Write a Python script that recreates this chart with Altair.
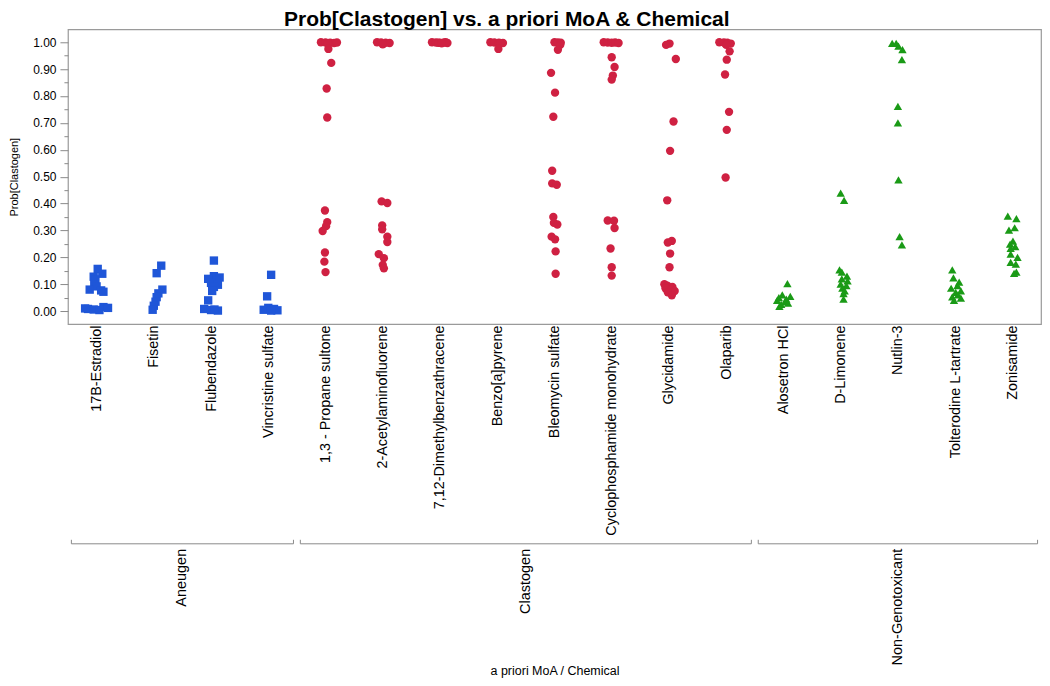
import json
import altair as alt
import pandas as pd

# ---------------- data ----------------
groups = ["Aneugen", "Clastogen", "Non-Genotoxicant"]
chemicals = [
    "17B-Estradiol", "Fisetin", "Flubendazole", "Vincristine sulfate",
    "1,3 - Propane sultone", "2-Acetylaminofluorene", "7,12-Dimethylbenzathracene",
    "Benzo[a]pyrene", "Bleomycin sulfate", "Cyclophosphamide monohydrate",
    "Glycidamide", "Olaparib",
    "Alosetron HCl", "D-Limonene", "Nutlin-3", "Tolterodine L-tartrate", "Zonisamide",
]
chem_group = ["Aneugen"] * 4 + ["Clastogen"] * 8 + ["Non-Genotoxicant"] * 5

# probability values per chemical
v_estradiol = [0.157, 0.139, 0.128, 0.118, 0.100, 0.092, 0.080, 0.077, 0.072, 0.015, 0.012, 0.008, 0.006, 0.004, 0.010]
v_fisetin = [0.169, 0.141, 0.080, 0.066, 0.052, 0.035, 0.020, 0.005]
v_flubendazole = [0.188, 0.130, 0.125, 0.120, 0.112, 0.105, 0.098, 0.090, 0.075, 0.040, 0.008, 0.004, 0.002, 0.006]
v_vincristine = [0.135, 0.055, 0.012, 0.008, 0.005, 0.003, 0.002]
v_propane = [1.0, 0.999, 0.998, 0.997, 0.999, 0.996, 0.975, 0.923, 0.828, 0.720, 0.374, 0.331, 0.316, 0.298, 0.218, 0.184, 0.145]
v_aaf = [1.0, 0.999, 0.998, 0.997, 0.992, 0.408, 0.402, 0.319, 0.304, 0.277, 0.257, 0.212, 0.197, 0.172, 0.159]
v_dmba = [1.0, 0.999, 0.998, 0.999, 0.997, 0.998, 1.0, 0.996]
v_bap = [1.0, 0.999, 0.998, 0.997, 0.996, 0.975]
v_bleomycin = [1.0, 0.999, 0.998, 0.990, 0.972, 0.886, 0.8125, 0.723, 0.522, 0.475, 0.470, 0.350, 0.328, 0.322, 0.277, 0.267, 0.222, 0.139]
v_cyclo = [1.0, 0.999, 0.998, 0.999, 0.997, 0.944, 0.908, 0.876, 0.861, 0.337, 0.336, 0.309, 0.233, 0.163, 0.132]
v_glycidamide = [0.995, 0.990, 0.9375, 0.705, 0.596, 0.412, 0.261, 0.255, 0.214, 0.163, 0.100, 0.095, 0.090, 0.085, 0.080, 0.075, 0.070, 0.059]
v_olaparib = [1.0, 0.999, 0.998, 0.995, 0.990, 0.966, 0.935, 0.880, 0.741, 0.674, 0.497]
v_alosetron = [0.102, 0.060, 0.055, 0.050, 0.045, 0.040, 0.035, 0.030, 0.025, 0.018]
v_limonene = [0.439, 0.412, 0.153, 0.145, 0.130, 0.120, 0.112, 0.100, 0.095, 0.085, 0.075, 0.065, 0.045]
v_nutlin = [0.996, 0.996, 0.985, 0.972, 0.935, 0.761, 0.700, 0.488, 0.277, 0.246]
v_tolterodine = [0.153, 0.124, 0.108, 0.095, 0.085, 0.075, 0.070, 0.060, 0.053, 0.048, 0.040]
v_zonisamide = [0.353, 0.344, 0.310, 0.301, 0.260, 0.249, 0.240, 0.233, 0.212, 0.200, 0.181, 0.175, 0.145, 0.140]

# horizontal jitter of each point, as a fraction of one category slot
j_estradiol = [0.02, 0.10, -0.05, -0.02, -0.04, 0.00, -0.12, 0.08, 0.12, 0.12, 0.20, -0.15, -0.05, 0.05, -0.20]
j_fisetin = [0.13, 0.05, 0.15, 0.08, 0.05, 0.03, 0.00, -0.02]
j_flubendazole = [0.05, 0.05, 0.15, -0.05, 0.10, 0.00, 0.12, 0.05, 0.02, -0.05, -0.12, 0.00, 0.12, 0.06]
j_vincristine = [0.05, -0.02, 0.00, 0.10, -0.08, 0.16, 0.05]
j_propane = [-0.08, 0.00, 0.08, 0.15, 0.20, 0.04, 0.05, 0.10, 0.02, 0.03, -0.01, 0.03, 0.01, -0.05, -0.01, -0.02, 0.00]
j_aaf = [-0.10, -0.03, 0.05, 0.12, 0.00, -0.02, 0.08, -0.01, -0.01, 0.08, 0.08, -0.07, 0.02, 0.00, 0.02]
j_dmba = [-0.14, -0.07, 0.00, 0.07, 0.13, -0.03, 0.10, 0.03]
j_bap = [-0.12, -0.05, 0.03, 0.10, 0.05, 0.02]
j_bleomycin = [0.00, 0.06, 0.11, 0.10, 0.06, -0.06, 0.01, -0.02, -0.04, -0.04, 0.04, -0.02, -0.01, 0.05, -0.05, 0.01, 0.02, 0.02]
j_cyclo = [-0.14, -0.07, 0.00, 0.06, 0.12, 0.00, 0.05, 0.02, 0.00, -0.07, 0.04, 0.05, -0.02, 0.00, 0.00]
j_glycidamide = [0.01, -0.05, 0.12, 0.08, 0.02, -0.03, 0.05, -0.02, 0.02, 0.01, -0.08, -0.03, 0.06, -0.06, 0.04, 0.10, -0.02, 0.05]
j_olaparib = [-0.12, -0.04, 0.02, 0.08, 0.00, 0.06, 0.01, -0.02, 0.05, 0.01, -0.01]
j_alosetron = [0.07, -0.02, 0.12, -0.08, 0.05, -0.11, 0.03, 0.08, -0.04, -0.07]
j_limonene = [0.00, 0.06, -0.02, 0.02, 0.11, 0.02, 0.12, 0.00, 0.10, 0.03, 0.07, 0.05, 0.05]
j_nutlin = [-0.10, -0.03, 0.01, 0.08, 0.07, 0.00, 0.00, 0.01, 0.03, 0.07]
j_tolterodine = [-0.05, -0.03, 0.07, 0.04, -0.07, 0.10, 0.01, 0.05, -0.05, 0.10, -0.02]
j_zonisamide = [-0.08, 0.07, 0.04, -0.06, 0.01, -0.04, 0.05, -0.03, -0.03, 0.09, -0.03, 0.06, 0.07, 0.03]

values = [v_estradiol, v_fisetin, v_flubendazole, v_vincristine, v_propane, v_aaf, v_dmba,
          v_bap, v_bleomycin, v_cyclo, v_glycidamide, v_olaparib, v_alosetron, v_limonene,
          v_nutlin, v_tolterodine, v_zonisamide]
jitters = [j_estradiol, j_fisetin, j_flubendazole, j_vincristine, j_propane, j_aaf, j_dmba,
           j_bap, j_bleomycin, j_cyclo, j_glycidamide, j_olaparib, j_alosetron, j_limonene,
           j_nutlin, j_tolterodine, j_zonisamide]

colors = ["#1f56d8", "#cf2142", "#1a9a16"]
shapes = ["square", "circle", "triangle-up"]

rows = []
for i, (name, vs, js) in enumerate(zip(chemicals, values, jitters)):
    for v, j in zip(vs, js):
        rows.append({"chemical": name, "moa": chem_group[i], "pos": i + 0.5 + j, "prob": v})
df = pd.DataFrame(rows)

group_start = [0, 4, 12]
group_end = [4, 12, 17]
gdf = pd.DataFrame({
    "moa": groups,
    "b0": [s + 0.06 for s in group_start],
    "b1": [e - 0.06 for e in group_end],
    "mid": [(s + e) / 2 for s, e in zip(group_start, group_end)],
})
edges = pd.DataFrame({"edge": gdf["b0"].tolist() + gdf["b1"].tolist()})

FONT = "Liberation Sans"
NARROW = "Liberation Sans Narrow, Liberation Sans"
W = 974
xscale = alt.Scale(domain=[0, 17], nice=False, zero=False)
label_expr = json.dumps(chemicals) + "[floor(datum.value)]"

points = alt.Chart(df).mark_point(filled=True, opacity=1, size=70).encode(
    x=alt.X("pos:Q", scale=xscale,
            axis=alt.Axis(values=[i + 0.5 for i in range(17)], labelExpr=label_expr,
                          labelAngle=270, labelFontSize=14.4, labelFont=FONT, labelColor="black",
                          labelPadding=1, labelOverlap=False, labelFlush=False, labelLimit=0,
                          ticks=False, domain=False, grid=False, title=None)),
    y=alt.Y("prob:Q", scale=alt.Scale(domain=[-0.048, 1.048], nice=False, zero=False),
            axis=alt.Axis(values=[round(k * 0.05, 2) for k in range(21)],
                          labelExpr="round(datum.value*20) % 2 == 0 ? format(datum.value, '.2f') : ''",
                          tickSize={"condition": {"test": "round(datum.value*20) % 2 == 0", "value": 8}, "value": 4},
                          tickColor="#8a8a8a", labelFontSize=12, labelFont=FONT, labelColor="black",
                          labelPadding=4, domain=False, grid=False,
                          title="Prob[Clastogen]", titleFont=NARROW, titleFontSize=11,
                          titleFontWeight="normal", titleColor="black", titlePadding=13)),
    color=alt.Color("moa:N", scale=alt.Scale(domain=groups, range=colors), legend=None),
    shape=alt.Shape("moa:N", scale=alt.Scale(domain=groups, range=shapes), legend=None),
).properties(width=W, height=295, view=alt.ViewBackground(stroke="#9a9a9a", strokeWidth=1.2))

bx = alt.X("b0:Q", scale=xscale,
           axis=alt.Axis(labels=False, ticks=False, domain=False, grid=False,
                         title="a priori MoA / Chemical", titleFont=NARROW, titleFontSize=12.5,
                         titleFontWeight="normal", titleColor="black", titlePadding=1))
bracket = alt.Chart(gdf).mark_rule(color="#8a8a8a", strokeWidth=1).encode(
    x=bx, x2="b1:Q", y=alt.value(8))
ends = alt.Chart(edges).mark_rule(color="#8a8a8a", strokeWidth=1).encode(
    x=alt.X("edge:Q", scale=xscale), y=alt.value(4), y2=alt.value(8))
glabels = alt.Chart(gdf).mark_text(angle=270, align="right", baseline="middle",
                                   font=FONT, fontSize=14.5, color="black").encode(
    x=alt.X("mid:Q", scale=xscale), y=alt.value(13), text="moa:N")
bottom = alt.layer(bracket, ends, glabels).properties(
    width=W, height=128, view=alt.ViewBackground(stroke=None))

chart = alt.vconcat(points, bottom, spacing=0).properties(
    title=alt.TitleParams("Prob[Clastogen] vs. a priori MoA & Chemical", font=NARROW,
                          fontSize=21, fontWeight="bold", color="black", anchor="middle",
                          offset=-1, dx=-18),
    padding={"left": 0, "top": 0, "right": 0, "bottom": 0},
)

chart.save("out.html", embed_options={"renderer": "svg", "actions": False})
